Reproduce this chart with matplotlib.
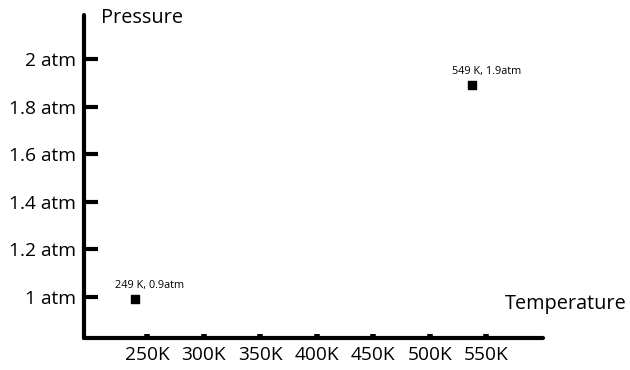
import matplotlib
matplotlib.use("Agg")
import matplotlib.pyplot as plt

# data
temps_k = [239, 537]
pressures_atm = [0.99, 1.89]
point_labels = ["249 K, 0.9atm", "549 K, 1.9atm"]

xticks = [250, 300, 350, 400, 450, 500, 550]
xtick_labels = ["250K", "300K", "350K", "400K", "450K", "500K", "550K"]
yticks = [1.0, 1.2, 1.4, 1.6, 1.8, 2.0]
ytick_labels = ["1 atm", "1.2 atm", "1.4 atm", "1.6 atm", "1.8 atm", "2 atm"]

plt.rcParams["font.family"] = ["Open Sans", "DejaVu Sans"]

fig = plt.figure(figsize=(6.3, 3.7), dpi=100)
ax = fig.add_axes([84 / 630, 32 / 370, (543 - 84) / 630, (338 - 15) / 370])

ax.scatter(temps_k, pressures_atm, marker="s", s=40, color="black", zorder=3)
for t, p, lab in zip(temps_k, pressures_atm, point_labels):
    ax.annotate(lab, (t, p), xytext=(-14, 6), textcoords="offset points",
                fontsize=7.8, ha="left", va="bottom")

ax.set_xlim(194, 600)
ax.set_ylim(0.828, 2.185)
ax.set_xticks(xticks)
ax.set_xticklabels(xtick_labels)
ax.set_yticks(yticks)
ax.set_yticklabels(ytick_labels)

for s in ["top", "right"]:
    ax.spines[s].set_visible(False)
for s in ["left", "bottom"]:
    ax.spines[s].set_linewidth(3)
    ax.spines[s].set_capstyle("round")

ax.tick_params(axis="y", direction="in", length=10, width=3, pad=6, labelsize=13.8)
ax.tick_params(axis="x", direction="in", length=3, width=4, pad=6, labelsize=13.8)
for lab in ax.get_yticklabels():
    lab.set_va("center_baseline")

fig.text(101 / 630, 1 - 18 / 370, "Pressure", fontsize=14.3, ha="left", va="center")
fig.text(627 / 630, 1 - 304 / 370, "Temperature", fontsize=14.3, ha="right", va="center")

fig.savefig("out.png", dpi=100)
